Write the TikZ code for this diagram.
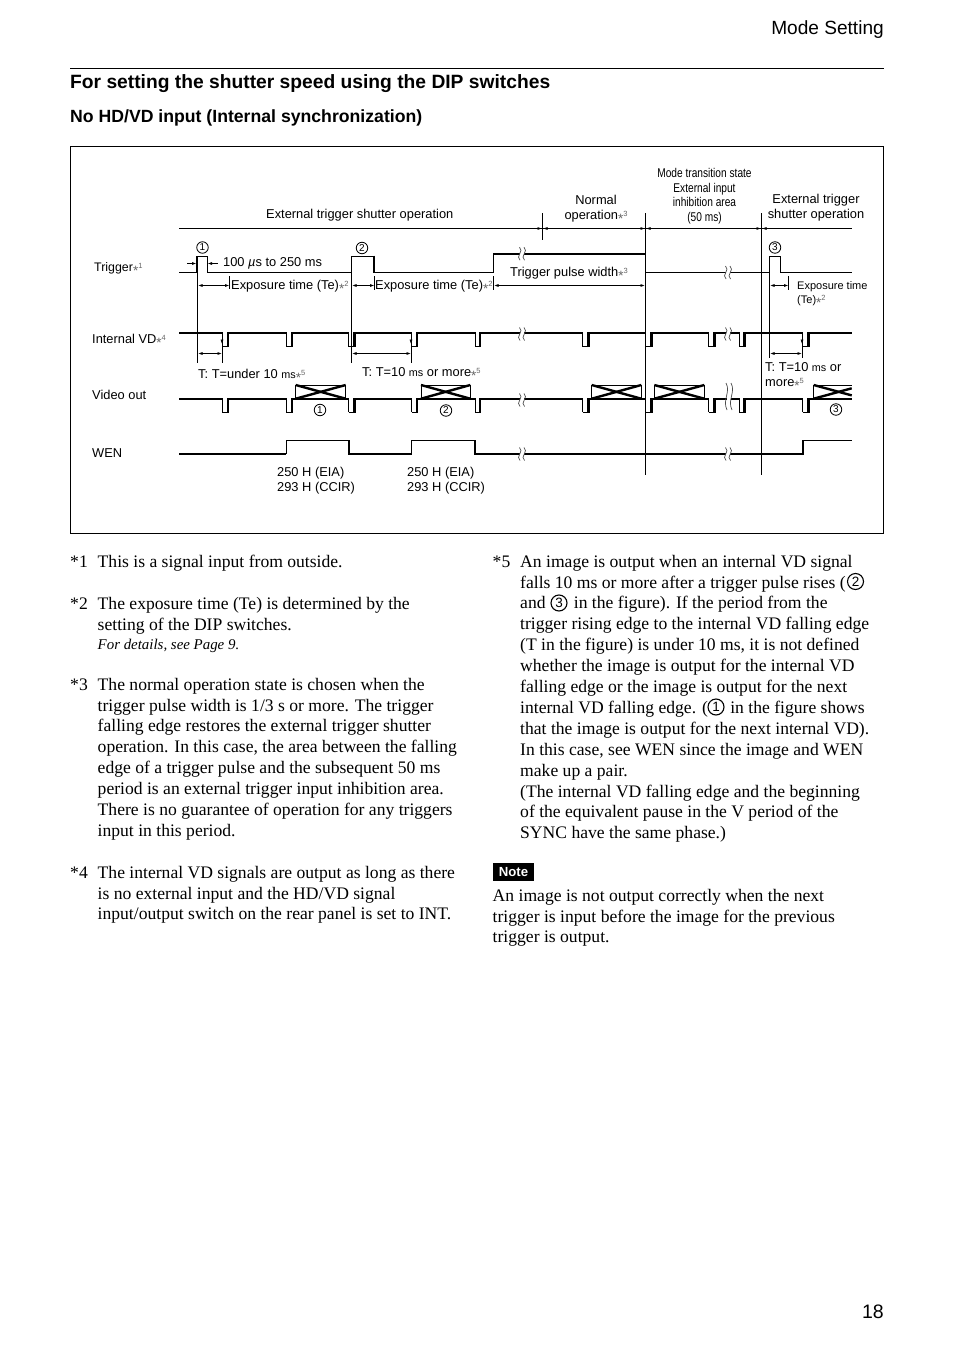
\documentclass[tikz,border=0pt]{standalone}
\usepackage{fontspec}
\setmainfont{Liberation Serif}
\setsansfont{Liberation Sans}
\newfontfamily\condfont[FakeStretch=0.8]{Liberation Sans}
\usetikzlibrary{arrows.meta}
\newcommand{\st}[1]{{\color{black!60}\fontsize{13.5}{13.5}\selectfont\raisebox{-4pt}{*}\raisebox{2.5pt}{\fontsize{7.5}{7.5}\selectfont #1}}}
\newcommand{\ms}{{\fontsize{10.8}{12}\selectfont ms}}
\tikzset{
  x=1pt,y=-1pt,
  >={Latex[length=4.5pt,width=3pt]},
  thinl/.style={line width=1pt,line cap=butt,line join=miter},
  dim/.style={line width=.8pt},
  thickl/.style={line width=2.4pt,line cap=butt,line join=miter},
  lab/.style={inner sep=0pt,anchor=base west,font=\sffamily\fontsize{12.85}{14.4}\selectfont,align=left},
  labc/.style={inner sep=0pt,anchor=base,font=\sffamily\fontsize{12.85}{14.6}\selectfont,align=center},
  small/.style={inner sep=0pt,anchor=base west,font=\sffamily\fontsize{11}{14}\selectfont,align=left},
  cond/.style={inner sep=0pt,anchor=north,font=\condfont\fontsize{12.7}{14.5}\selectfont,align=center},
  body/.style={inner sep=0pt,anchor=north west,font=\rmfamily\fontsize{17.6}{20.9}\selectfont,align=left},
  numc/.style={circle,draw,line width=0.85pt,inner sep=0pt,minimum size=11.5pt,font=\sffamily\fontsize{10}{10}\selectfont},
  numb/.style={circle,draw,line width=1.1pt,inner sep=0pt,minimum size=16pt,font=\sffamily\fontsize{13.5}{14}\selectfont},
  brkl/.style={line width=.7pt,black!70},
}
% break mark: two small upright S strokes with a white gap
\newcommand{\brk}[2]{%
  \fill[white] (#1-2,#2-2) rectangle (#1+2,#2+2);
  \draw[brkl] (#1-2.5,#2-6.5) .. controls (#1+2.5,#2-2.5) and (#1-7,#2+2.5) .. (#1-2,#2+6.5);
  \draw[brkl] (#1+2,#2-6.5) .. controls (#1+7,#2-2.5) and (#1-2.5,#2+2.5) .. (#1+2.5,#2+6.5);
}
\begin{document}
\begin{tikzpicture}
\useasboundingbox (0,0) rectangle (954,1351);
\fill[white] (0,0) rectangle (954,1351);

% page heads
\node[inner sep=0pt,anchor=base east,font=\sffamily\fontsize{19.1}{20}\selectfont] (mode) at (884,35) {Mode Setting};
\draw[line width=.8pt] (70,68.5) -- (884,68.5);
\node[inner sep=0pt,anchor=base west,font=\sffamily\bfseries\fontsize{19.24}{20}\selectfont] (title) at (70,88.5) {For setting the shutter speed using the DIP switches};
\node[inner sep=0pt,anchor=base west,font=\sffamily\bfseries\fontsize{17.65}{20}\selectfont] (sub) at (70,123) {No HD/VD input (Internal synchronization)};
\draw[line width=.8pt] (70.5,146.5) rectangle (883.5,533.5);

% top rail
\draw[thinl] (179,228.5) -- (851.7,228.5);
\draw[thinl] (542.5,213) -- (542.5,239.5);
\draw[thinl] (645.5,213) -- (645.5,475);
\draw[thinl] (761.5,213) -- (761.5,475);
\foreach \xx in {542.5,645.5,761.5}{
  \draw[->,dim] (\xx-9,228.5) -- (\xx-.5,228.5);
  \draw[->,dim] (\xx+9,228.5) -- (\xx+.5,228.5);
}

% trigger
\draw[thinl] (179,272.5) -- (196.5,272.5) -- (196.5,256.5) -- (207.5,256.5) -- (207.5,272.5) -- (351.5,272.5) -- (351.5,256.5) -- (374,256.5);
\draw[thickl] (374,255.5) -- (374,272.5);
\draw[thinl] (374,272.5) -- (493.5,272.5) -- (493.5,253.7);
\draw[thickl] (493,253.7) -- (645.5,253.7);
\draw[thinl] (645.5,272.5) -- (769.5,272.5) -- (769.5,256.5) -- (780.5,256.5) -- (780.5,272.5) -- (851.7,272.5);

% verticals from trigger edges
\draw[thinl] (197.5,256) -- (197.5,363);
\draw[thinl] (351.5,256) -- (351.5,363);
\draw[thinl] (769.5,256) -- (769.5,358);
\draw[thinl] (222.5,346) -- (222.5,363);
\draw[thinl] (411.5,346) -- (411.5,363);
\draw[thinl] (802.5,346) -- (802.5,358);

% internal VD
\draw[thickl] (179,332.8) -- (222.3,332.8);
\foreach \a/\b in {228/286.3,291.7/348.7,354.3/411.7,416.7/475,480/582.7,588.3/645.7,651.3/708.7,714.3/739.3,744.3/802.7}{
  \draw[thickl] (\a,332.8) -- (\b,332.8);
}
\draw[thickl] (808.3,332.8) -- (851.7,332.8);
\foreach \a/\b in {222.3/228,286.3/291.7,348.7/354.3,411.7/416.7,475/480,582.7/588.3,645.7/651.3,708.7/714.3,739.3/744.3,802.7/808.3}{
  \draw[thinl] (\a,332) -- (\a,346.5);
  \draw[thinl] (\a,346.5) -- (\b,346.5);
  \draw[thickl] (\b,347) -- (\b,332);
}

% video out
\draw[thickl] (179,398.7) -- (222.3,398.7);
\foreach \a/\b in {228/286.3,291.7/348.7,354.3/411.7,416.7/475,480/582.7,588.3/645.7,651.3/708.7,714.3/739.3,744.3/802.7}{
  \draw[thickl] (\a,398.7) -- (\b,398.7);
}
\draw[thickl] (808.3,398.7) -- (851.7,398.7);
\foreach \a/\b in {222.3/228,286.3/291.7,348.7/354.3,411.7/416.7,475/480,582.7/588.3,645.7/651.3,708.7/714.3,739.3/744.3,802.7/808.3}{
  \draw[thinl] (\a,398) -- (\a,412);
  \draw[thinl] (\a,412) -- (\b,412);
  \draw[thickl] (\b,412.5) -- (\b,398);
}
% data crosses
\foreach \a/\b in {295.7/345.7,421/470.3,591.7/641.3,654.3/704.3}{
  \draw[thinl] (\a,385.5) -- (\b,385.5);
  \draw[thinl] (\a,385) -- (\a,398.7);
  \draw[thinl] (\b,385) -- (\b,398.7);
  \draw[thickl] (\a,385) -- (\b,398.7);
  \draw[thickl] (\b,385) -- (\a,398.7);
}
\draw[thinl] (813.7,385.5) -- (851.7,385.5);
\draw[thinl] (813.7,385) -- (813.7,398.7);
\draw[thickl] (813.7,385) -- (851.7,395.4);
\draw[thickl] (813.7,398.7) -- (851.7,388.3);

% WEN
\foreach \a/\b in {179/286,348.7/411.7,474.7/802.7}{
  \draw[thickl] (\a,454) -- (\b,454);
}
\foreach \a/\b in {286/348.7,411.7/474.7}{
  \draw[thinl] (\a,454) -- (\a,440.5) -- (\b,440.5);
  \draw[thickl] (\b,440) -- (\b,455.2);
}
\draw[thickl] (802.7,455.2) -- (802.7,440);
\draw[thinl] (802.7,440.5) -- (851.7,440.5);

% break marks
\brk{522}{253.7}
\brk{522}{334}
\brk{522}{400}
\brk{522}{454}
\brk{728}{272.5}
\brk{728}{334}
\brk{728}{454}
\fill[white] (727,395) rectangle (731,402);
\draw[brkl] (726,383) .. controls (731,392) and (722,400) .. (727,410);
\draw[brkl] (731,383) .. controls (736,392) and (727,400) .. (732,410);

% dimension arrows
\draw[<-,dim] (196.5,263.5) -- (187,263.5);
\draw[<-,dim] (207.5,263.5) -- (218,263.5);
\draw[<->,dim] (198,285.5) -- (229.5,285.5);
\draw[thinl] (229.5,276) -- (229.5,289);
\draw[<->,dim] (352,285.5) -- (374.5,285.5);
\draw[thinl] (374.5,276) -- (374.5,290);
\draw[thinl] (493.5,276) -- (493.5,290);
\draw[<->,dim] (494,285.5) -- (645,285.5);
\draw[<->,dim] (770,285.5) -- (788.5,285.5);
\draw[thinl] (788.5,276) -- (788.5,290);
\draw[<->,dim] (198,353.5) -- (222,353.5);
\draw[<->,dim] (352,353.5) -- (411,353.5);
\draw[<->,dim] (770,353.5) -- (802,353.5);
\foreach \xx in {222.5,411.5,802.5}{
  \draw[->,line width=.5pt] (\xx-.5,337) -- (\xx-.5,344);
}

% signal names
\node[lab,font=\sffamily\fontsize{12.4}{14}\selectfont] (ltrig) at (94,271) {Trigger\st{1}};
\node[lab] (lvd) at (92,343) {Internal VD\st{4}};
\node[lab] (lvo) at (92,399) {Video out};
\node[lab] (lwen) at (92,457) {WEN};

% upper labels
\node[lab] (lext) at (266,218.5) {External trigger shutter operation};
\node[labc] (lnorm) at (596,219) {Normal\\operation\st{3}};
\node[cond] (lmode) at (704.5,168.5) {Mode transition state\\External input\\inhibition area\\(50 ms)};
\node[labc] (lext2) at (816,218.5) {External trigger\\shutter operation};
\node[lab] (l100) at (223,266) {100 \textit{µ}s to 250 ms};
\node[lab] (lexp1) at (231,289) {Exposure time (Te)\st{2}};
\node[lab] (lexp2) at (375,289) {Exposure time (Te)\st{2}};
\node[lab] (lwidth) at (510,276) {Trigger pulse width\st{3}};
\node[small] (lexp3) at (797,303) {Exposure time\\(Te)\st{2}};
\node[lab] (lt1) at (198,378) {T: T=under 10 \ms\st{5}};
\node[lab] (lt2) at (362,376) {T: T=10 \ms{} or more\st{5}};
\node[lab] (lt3) at (765,386) {T: T=10 \ms{} or\\more\st{5}};
\node[lab] (lh1) at (277,491) {250 H (EIA)\\293 H (CCIR)};
\node[lab] (lh2) at (407,491) {250 H (EIA)\\293 H (CCIR)};

% circled numbers
\node[numc] (c1) at (202.5,247.5) {1};
\node[numc] (c2) at (362,248) {2};
\node[numc] (c3) at (775,247.5) {3};
\node[numc] (v1) at (320,410) {1};
\node[numc] (v2) at (446,410.5) {2};
\node[numc] (v3) at (836,409.5) {3};

% footnotes, left column
\node[body] (s1) at (70,552.3) {\strut *1};
\node[body] (t1) at (97.5,552.3) {\strut This is a signal input from outside.};
\node[body] (s2) at (70,594.3) {\strut *2};
\node[body] (t2) at (97.5,594.3) {\strut The exposure time (Te) is determined by the\\setting of the DIP switches.};
\node[inner sep=0pt,anchor=base west,font=\rmfamily\itshape\fontsize{14.9}{16}\selectfont] (t2b) at (97.5,649) {For details, see Page 9.};
\node[body] (s3) at (70,675.3) {\strut *3};
\node[body] (t3) at (97.5,675.3) {\strut The normal operation state is chosen when the\\trigger pulse width is 1/3 s or more. The trigger\\falling edge restores the external trigger shutter\\operation. In this case, the area between the falling\\edge of a trigger pulse and the subsequent 50 ms\\period is an external trigger input inhibition area.\\There is no guarantee of operation for any triggers\\input in this period.};
\node[body] (s4) at (70,863.3) {\strut *4};
\node[body] (t4) at (97.5,863.3) {\strut The internal VD signals are output as long as there\\is no external input and the HD/VD signal\\input/output switch on the rear panel is set to INT.};

% footnotes, right column
\node[body] (s5) at (492.5,552.3) {\strut *5};
\node[body] (t5) at (520,552.3) {\strut An image is output when an internal VD signal\\falls 10 ms or more after a trigger pulse rises (\\and \hspace{19.5pt} in the figure). If the period from the\\trigger rising edge to the internal VD falling edge\\(T in the figure) is under 10 ms, it is not defined\\whether the image is output for the internal VD\\falling edge or the image is output for the next\\internal VD falling edge. (\hspace{18pt} in the figure shows\\that the image is output for the next internal VD).\\In this case, see WEN since the image and WEN\\make up a pair.\\(The internal VD falling edge and the beginning\\of the equivalent pause in the V period of the\\SYNC have the same phase.)};
\node[numb] (b2) at (855.5,581.5) {2};
\node[numb] (b3) at (559,603) {3};
\node[numb] (b1) at (716,707) {1};
\node[fill=black,text=white,inner sep=0pt,minimum width=41.5pt,minimum height=18pt,font=\sffamily\bfseries\fontsize{13.2}{14}\selectfont] (note) at (513.5,872) {Note};
\node[body] (t6) at (492.5,886.3) {\strut An image is not output correctly when the next\\trigger is input before the image for the previous\\trigger is output.};

\node[inner sep=0pt,anchor=base east,font=\sffamily\fontsize{19.5}{20}\selectfont] (page) at (884,1318) {18};
\end{tikzpicture}
\end{document}
